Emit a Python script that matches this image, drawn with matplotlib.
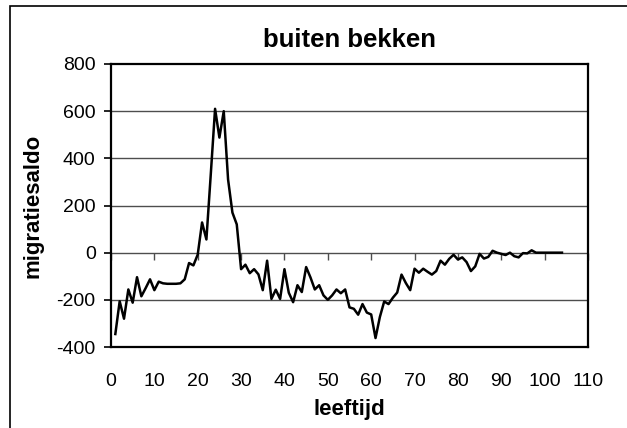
import matplotlib
matplotlib.use('Agg')
import matplotlib.pyplot as plt
from matplotlib.patches import Rectangle
import numpy as np

plt.rcParams['font.family'] = ['Liberation Sans', 'DejaVu Sans']
plt.rcParams['axes.unicode_minus'] = False

# leeftijd 1..104
leeftijd = list(range(1, 105))
migratiesaldo = [
    -345, -206, -280, -156, -212, -104, -185, -150, -113, -159,   # 1-10
    -123, -130, -132, -132, -132, -130, -113, -44, -54, -8,       # 11-20
    128, 56, 330, 610, 488, 600, 310, 170, 120, -70,              # 21-30
    -51, -87, -70, -92, -159, -34, -196, -157, -196, -70,         # 31-40
    -170, -210, -138, -167, -61, -105, -156, -138, -181, -200,    # 41-50
    -181, -156, -172, -156, -232, -238, -263, -218, -254, -262,   # 51-60
    -362, -273, -207, -218, -191, -169, -93, -129, -159, -68,     # 61-70
    -85, -68, -81, -93, -78, -34, -51, -26, -9, -29,              # 71-80
    -20, -40, -78, -58, -5, -25, -18, 8, 0, -5,                   # 81-90
    -10, 0, -15, -20, -2, -3, 10, 0, 0, 0,                        # 91-100
    0, 0, 0, 0,                                                   # 101-104
]
xticks = list(range(0, 111, 10))
yticks = list(range(-400, 801, 200))

W, H = 627, 428
fig = plt.figure(figsize=(W / 100, H / 100), dpi=100)
ax = fig.add_axes([111 / W, (H - 347) / H, 477 / W, 283 / H])

for v in yticks[1:-1]:
    ax.axhline(v, color='0.3', lw=1.0, zorder=1)

ax.plot(leeftijd, migratiesaldo, color='black', lw=1.8, zorder=3)

ax.set_xlim(0, 110)
ax.set_ylim(-400, 800)
ax.set_xticks(xticks)
ax.set_yticks(yticks)
ax.tick_params(axis='x', length=0, pad=19, labelsize=14)
ax.tick_params(axis='y', direction='out', length=5, width=1.2, pad=6, labelsize=14)
for s in ax.spines.values():
    s.set_linewidth(1.6)
    s.set_color('black')

# x axis line with ticks crossing at y = 0
sec = ax.secondary_xaxis(400 / 1200)
sec.set_xticks(xticks)
sec.tick_params(direction='out', length=5, width=1.0, color='0.3', labelbottom=False)
sec.spines['bottom'].set_visible(False)
sec.set_xticklabels([])

fig.text(349 / W, 1 - 40 / H, 'buiten bekken', ha='center', va='center',
         fontsize=18.5, fontweight='bold')
fig.text(33 / W, 1 - 206 / H, 'migratiesaldo', rotation=90, ha='center', va='center',
         fontsize=16, fontweight='bold')
fig.text(349 / W, 1 - 409 / H, 'leeftijd', ha='center', va='center',
         fontsize=16, fontweight='bold')

fig.patches.append(Rectangle((10 / W, -0.1), 1.0, 1.1 - 6 / H, transform=fig.transFigure,
                             fill=False, edgecolor='black', lw=1.2))

fig.savefig('out.png', dpi=100)
